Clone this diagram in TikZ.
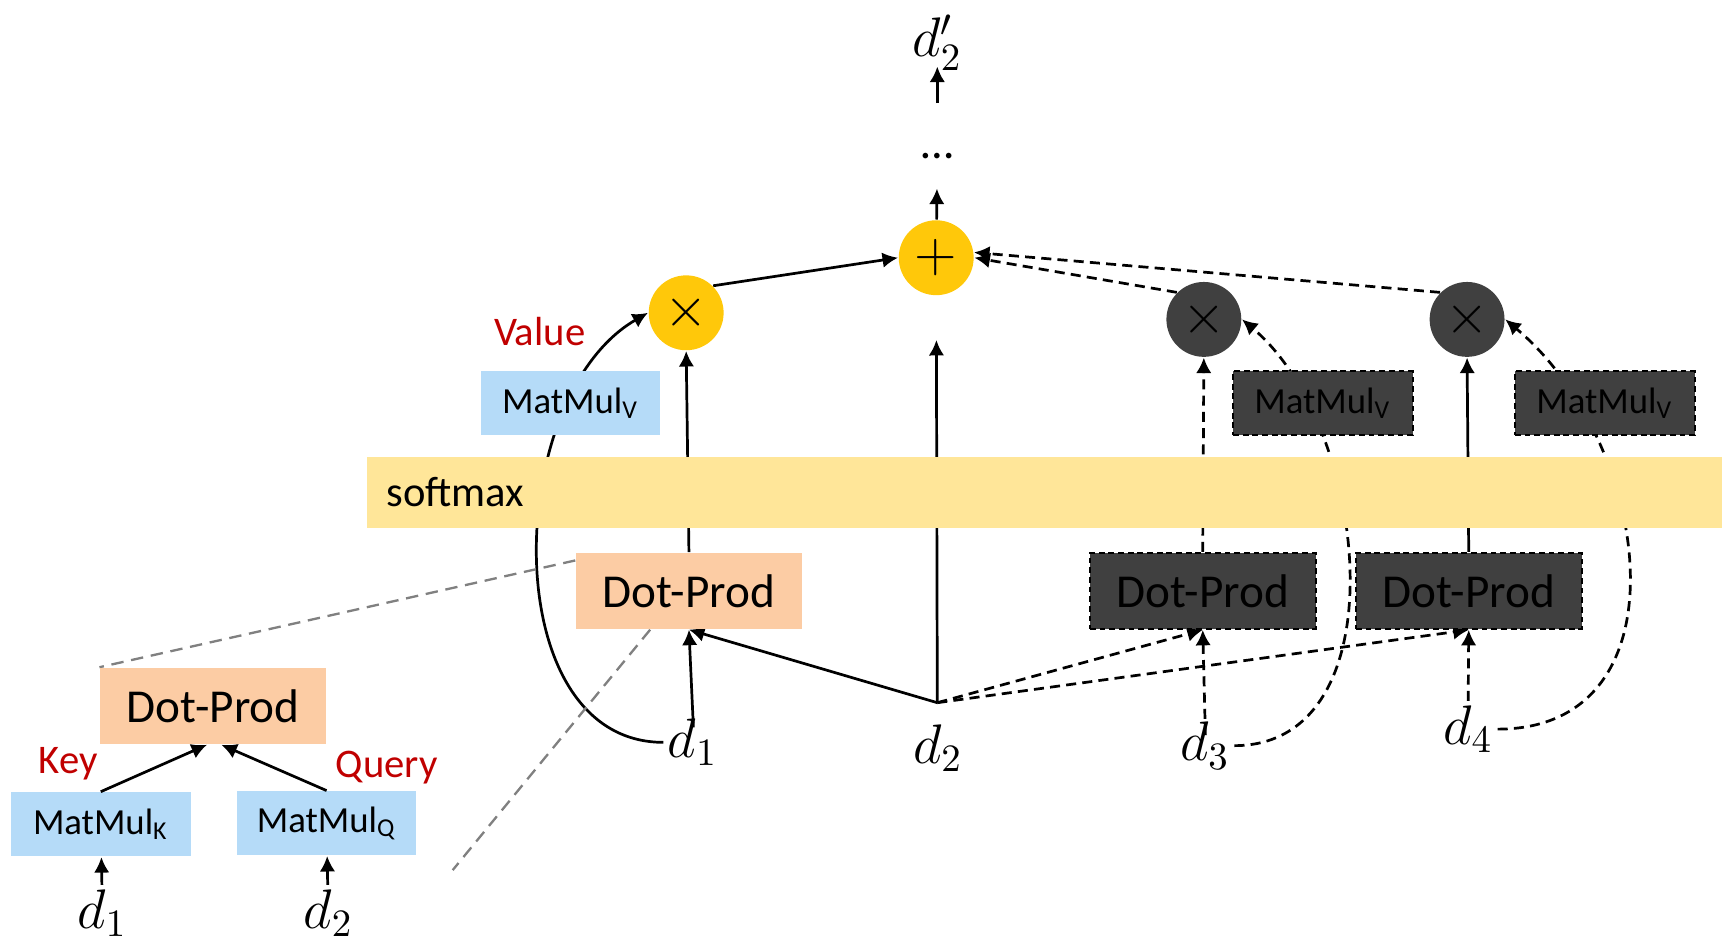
\documentclass[tikz,border=0pt]{standalone}
\usepackage{amsmath}
\usepackage{fontspec}
\setmainfont{Carlito}
\usetikzlibrary{arrows.meta,backgrounds}

\definecolor{opyellow}{RGB}{255,200,10}
\definecolor{darkbox}{RGB}{64,64,64}
\definecolor{softyellow}{RGB}{255,230,153}
\definecolor{peach}{RGB}{252,204,164}
\definecolor{lightblue}{RGB}{181,219,248}
\definecolor{labelred}{RGB}{192,0,0}

\begin{document}
\begin{tikzpicture}[
		arr/.style={-{Latex[length=4pt, width=4pt]}, line width=0.7pt},
		dashline/.style={dash pattern=on 2.6pt off 1.6pt},
		zoomline/.style={dash pattern=on 3.2pt off 2pt, gray, line width=0.6pt},
		dotprod/.style={fill=peach, minimum width=2.05cm, minimum height=0.69cm, font=\fontsize{12.2}{14}\selectfont},
		darkprod/.style={dotprod, fill=darkbox, draw=black, dash pattern=on 1.5pt off 1pt, line width=0.5pt},
		matmul/.style={fill=lightblue, minimum width=1.63cm, minimum height=0.58cm, font=\fontsize{9.5}{11}\selectfont},
		darkmul/.style={matmul, fill=darkbox, draw=black, dash pattern=on 1.5pt off 1pt, line width=0.5pt},
		op/.style={circle, fill=opyellow, minimum size=0.68cm, inner sep=0pt, font=\fontsize{14}{16}\selectfont},
		darkop/.style={op, fill=darkbox},
		softbar/.style={fill=softyellow, minimum width=12.3cm, minimum height=0.64cm, text width=11.94cm, inner xsep=0.18cm, align=left, font=\fontsize{11}{13}\selectfont},
		inp/.style={inner sep=1pt, font=\fontsize{13.7}{16}\selectfont},
		tag/.style={text=labelred, font=\fontsize{10.5}{12}\selectfont}
	]
	\useasboundingbox (0,0) rectangle (15.68,8.54);
	
	% Output
	\node[inp] (d2out) at (8.51, 8.15) {$d'_2$};
	\node[inner sep=0pt, font=\fontsize{12}{14}\selectfont] (dots) at (8.51, 7.12) {…};
	
	% Sum and weights
	\node[op] (plus) at (8.50, 6.20) {$+$};
	\node[op] (times1) at (6.23, 5.70) {$\times$};
	\node[darkop] (times3) at (10.93, 5.64) {$\times$};
	\node[darkop] (times4) at (13.32, 5.64) {$\times$};
	
	% Value projections
	\node[matmul] (mv1) at (5.18, 4.88) {MatMul\textsubscript{V}};
	\node[darkmul] (mv3) at (12.01, 4.88) {MatMul\textsubscript{V}};
	\node[darkmul] (mv4) at (14.57, 4.88) {MatMul\textsubscript{V}};
	\node[tag] (value) at (4.90, 5.53) {Value};
	
	% Softmax
	\node[softbar] (softmax) at (9.48, 4.07) {softmax};
	
	% Dot products
	\node[dotprod] (dp1) at (6.255, 3.175) {Dot-Prod};
	\node[darkprod] (dp3) at (10.92, 3.175) {Dot-Prod};
	\node[darkprod] (dp4) at (13.335, 3.175) {Dot-Prod};
	
	% Inputs
	\node[inp] (d1) at (6.29, 1.80) {$d_1$};
	\node[inp] (d2) at (8.515, 1.745) {$d_2$};
	\node[inp] (d3) at (10.94, 1.77) {$d_3$};
	\node[inp] (d4) at (13.33, 1.92) {$d_4$};
	\coordinate (hub) at (8.51, 2.16);
	
	% Zoomed-in dot product
	\node[dotprod] (dp0) at (1.935, 2.13) {Dot-Prod};
	\node[matmul] (mk) at (0.915, 1.055) {MatMul\textsubscript{K}};
	\node[matmul] (mq) at (2.965, 1.065) {MatMul\textsubscript{Q}};
	\node[tag] (key) at (0.62, 1.61) {Key};
	\node[tag] (query) at (3.51, 1.57) {Query};
	\node[inp] (k1) at (0.93, 0.25) {$d_1$};
	\node[inp] (q2) at (2.98, 0.25) {$d_2$};
	\coordinate (zoomend) at (4.11, 0.64);
	
	\begin{scope}[on background layer]
		% Main path
		\draw[arr, shorten <=0.45cm, shorten >=-0.08cm] (dots) -- (d2out);
		\draw[arr, shorten >=0.26cm] (plus) -- (dots);
		\draw[arr] (times1.45) -- (plus.west);
		\draw[arr, dashline] (times3.135) -- (plus.east);
		\draw[arr, dashline] (times4.135) -- (plus.8);
		\draw[arr, shorten >=0.4cm] (hub) -- (plus);
		
		% Weights from the dot products
		\draw[arr] (dp1.north) -- (times1.south);
		\draw[arr, dashline] (dp3.north) -- (times3.south);
		\draw[arr] (dp4.north) -- (times4.south);
		
		% Query and keys
		\draw[arr, shorten <=-0.12cm] (d1.north) -- (dp1.south);
		\draw[arr] (hub) -- (dp1.south);
		\foreach \n in {3,4}
		\draw[arr, dashline] (hub) -- (dp\n.south);
		\draw[arr, dashline, shorten <=-0.16cm] (d3.north) -- (dp3.south);
		\draw[arr, dashline] (d4.north) -- (dp4.south);
		
		% Values
		\draw[arr] (d1.west) to[out=180, in=210] (times1.west);
		\draw[arr, dashline] (d3.east) to[out=0, in=-40] (times3.east);
		\draw[arr, dashline] (d4.east) to[out=0, in=-40, looseness=1.2] (times4.east);
		
		% Zoom lines
		\draw[zoomline] (dp1.165) -- (dp0.north west);
		\draw[zoomline] (dp1.225) -- (zoomend);
	\end{scope}
	
	% Inset connectors
	\draw[arr] (mk.north) -- (dp0.261);
	\draw[arr] (mq.north) -- (dp0.282);
	\draw[arr] (k1) -- (mk);
	\draw[arr] (q2) -- (mq);
\end{tikzpicture}
\end{document}
